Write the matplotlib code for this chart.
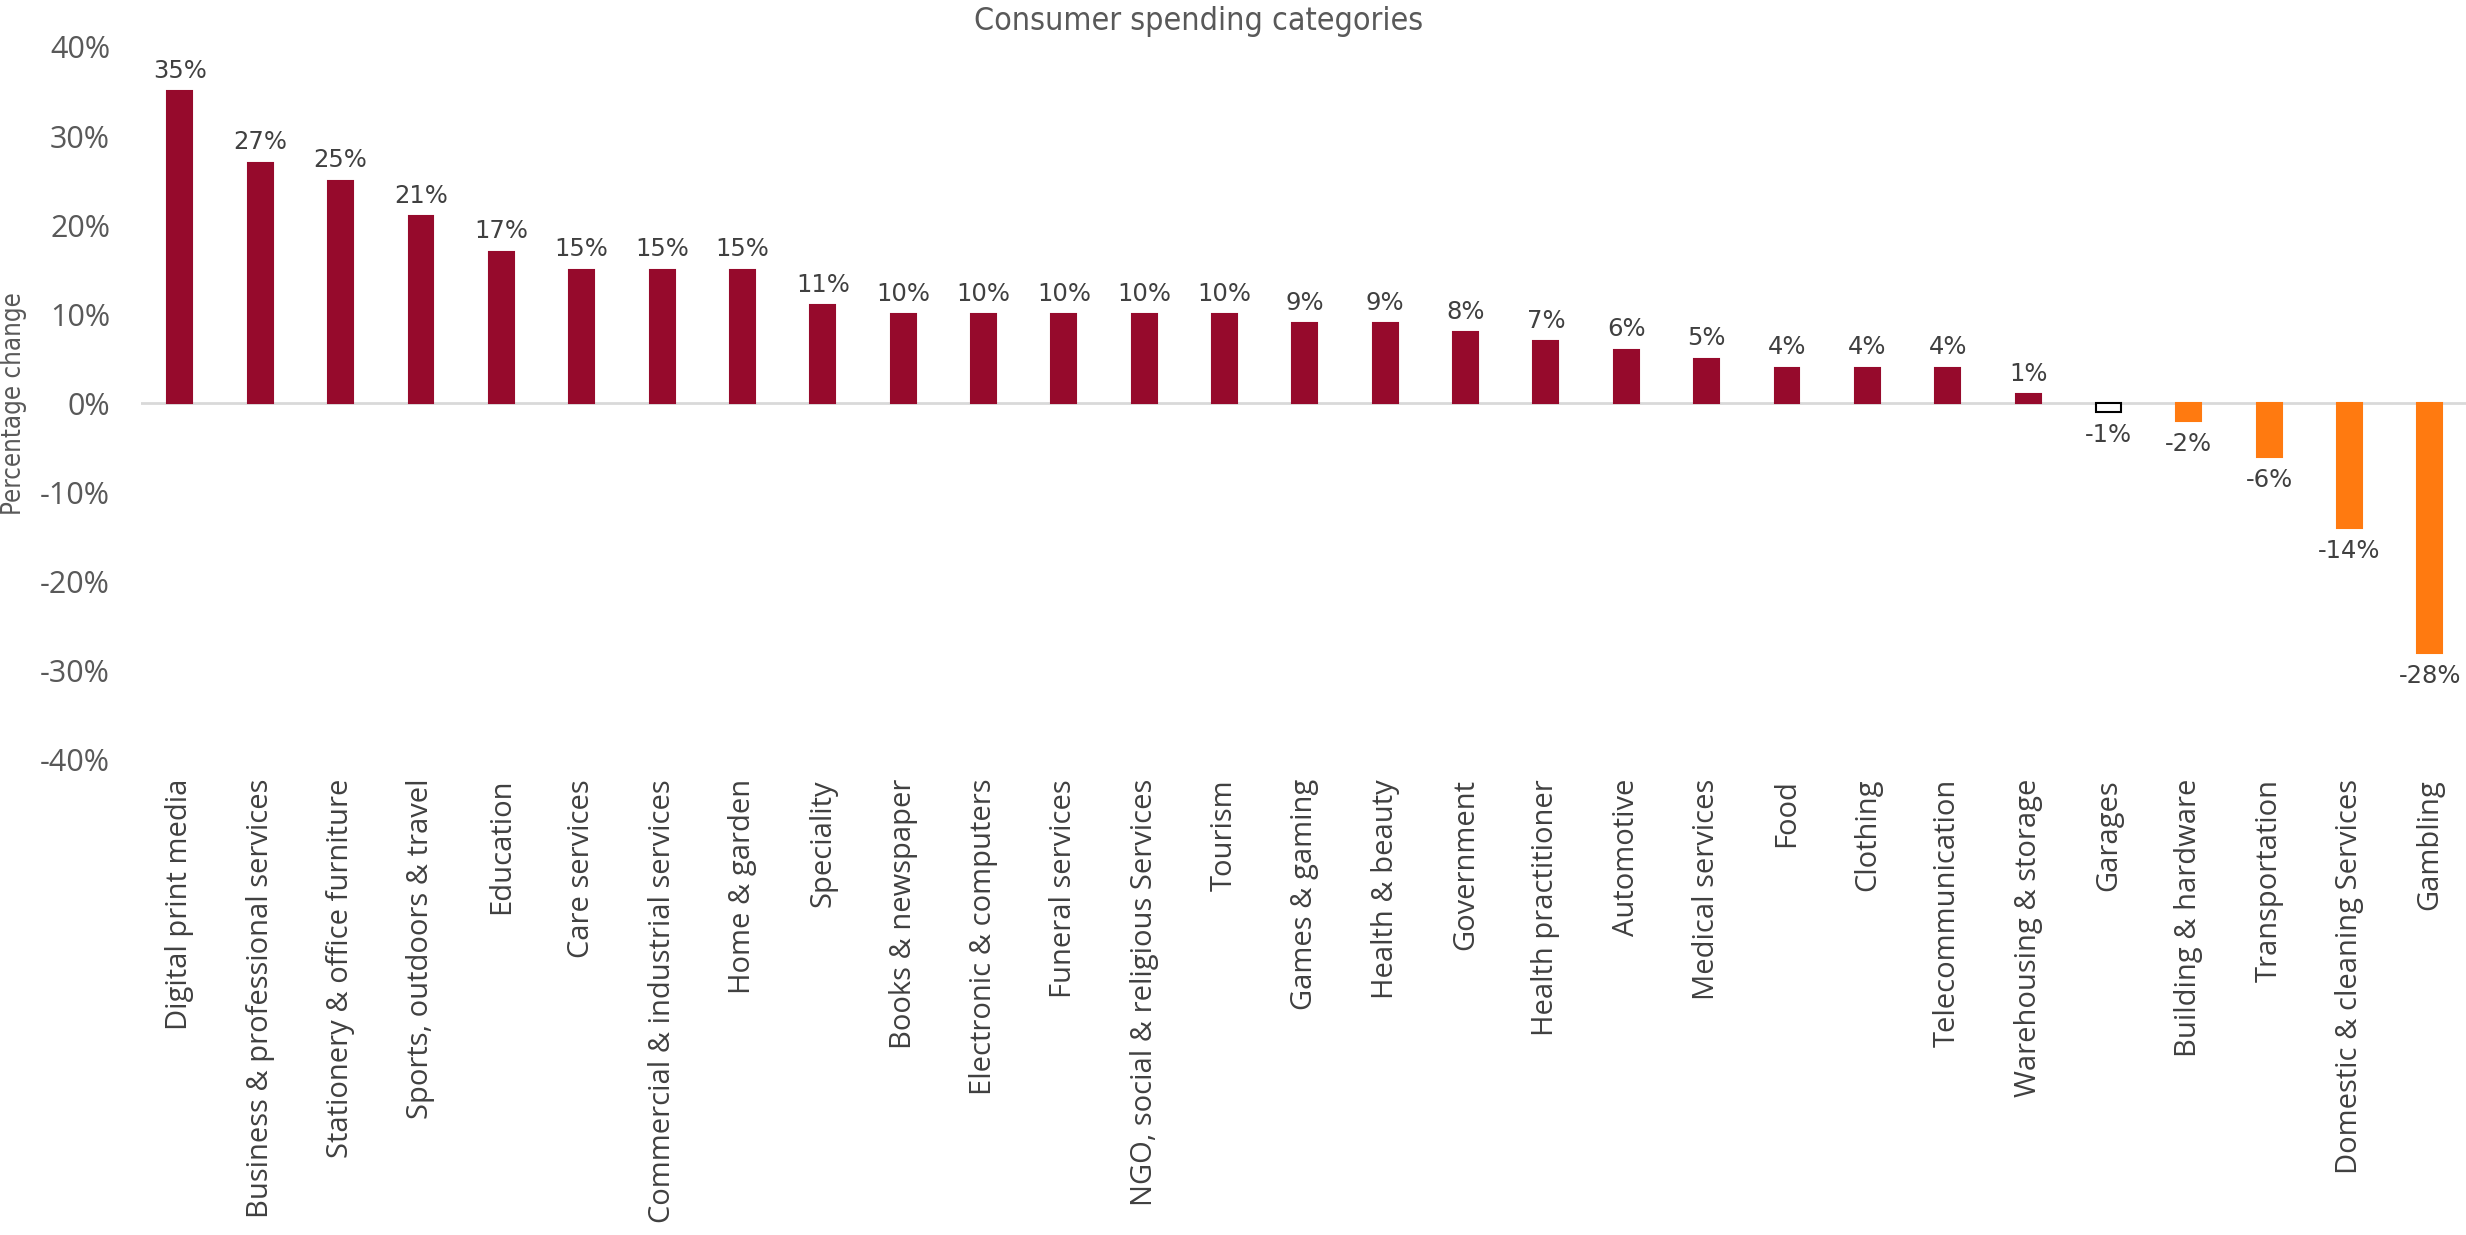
import matplotlib.pyplot as plt
from matplotlib.ticker import PercentFormatter

plt.rcParams["axes.unicode_minus"] = False

categories = [
    "Digital print media", "Business & professional services", "Stationery & office furniture",
    "Sports, outdoors & travel", "Education", "Care services", "Commercial & industrial services",
    "Home & garden", "Speciality", "Books & newspaper", "Electronic & computers",
    "Funeral services", "NGO, social & religious Services", "Tourism", "Games & gaming",
    "Health & beauty", "Government", "Health practitioner", "Automotive", "Medical services",
    "Food", "Clothing", "Telecommunication", "Warehousing & storage", "Garages",
    "Building & hardware", "Transportation", "Domestic & cleaning Services", "Gambling",
]
changes = [35, 27, 25, 21, 17, 15, 15, 15, 11, 10, 10, 10, 10, 10, 9, 9, 8, 7, 6, 5,
           4, 4, 4, 1, -1, -2, -6, -14, -28]

RED = "#960A2C"
ORANGE = "#FF7A10"
TEXT = "#404040"

fig = plt.figure(figsize=(24.66, 12.35), dpi=100)
ax = fig.add_axes([0.057, 0.385, 0.943, 0.577])

x = range(len(categories))
colors = []
edges = []
for cat, v in zip(categories, changes):
    if cat == "Garages":
        colors.append("white")
        edges.append("black")
    elif v >= 0:
        colors.append(RED)
        edges.append(RED)
    else:
        colors.append(ORANGE)
        edges.append(ORANGE)

ax.bar(x, changes, width=0.31, color=colors, edgecolor=edges, linewidth=1.5, zorder=3)

for i, v in enumerate(changes):
    if v >= 0:
        ax.annotate(f"{v}%", (i, v), xytext=(0, 6), textcoords="offset points",
                    ha="center", va="bottom", fontsize=17.5, color=TEXT)
    else:
        ax.annotate(f"{v}%", (i, v), xytext=(0, -8), textcoords="offset points",
                    ha="center", va="top", fontsize=17.5, color=TEXT)

ax.axhline(0, color="#D9D9D9", linewidth=2, zorder=2)
ax.set_ylim(-40, 40)
ax.set_xlim(-0.49, len(categories) - 0.55)
ax.set_yticks(range(-40, 41, 10))
ax.yaxis.set_major_formatter(PercentFormatter(decimals=0))
ax.set_xticks(list(x))
ax.set_xticklabels(categories, rotation=90, fontsize=21, color=TEXT, family="Open Sans")
for lbl in ax.get_yticklabels():
    lbl.set_family("Open Sans")
ax.tick_params(axis="y", labelsize=22, labelcolor="#595959", length=0, pad=22)
ax.tick_params(axis="x", length=0, pad=14)
for s in ax.spines.values():
    s.set_visible(False)

ax.set_ylabel("Percentage change", fontsize=18.5, color="#595959",
              fontstretch="condensed")
ax.yaxis.set_label_coords(-0.049, 0.5)
fig.suptitle("Consumer spending categories", x=0.486, y=0.995, fontsize=23,
             color="#595959", fontstretch="condensed")

fig.savefig("out.png", dpi=100)
